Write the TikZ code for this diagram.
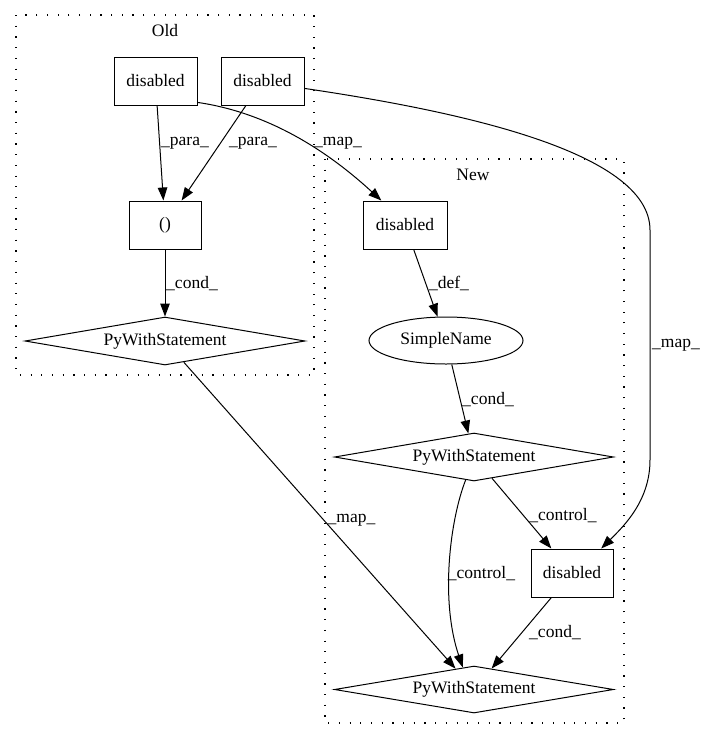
\documentclass[tikz,border=0pt]{standalone}
\usepackage{fontspec}
\setmainfont{Liberation Serif}
\usetikzlibrary{shapes.geometric,arrows.meta}
\begin{document}
\begin{tikzpicture}[x=1pt,y=-1pt,
  every node/.style={font=\fontsize{17.5}{21}\selectfont},
  box/.style={draw, line width=1pt, rectangle, inner sep=0pt, minimum height=48pt},
  dia/.style={draw, line width=1pt, diamond, aspect=5.8, inner sep=0pt, minimum width=279pt, minimum height=48pt},
  ell/.style={draw, line width=1pt, ellipse, inner sep=0pt, minimum width=154pt, minimum height=47pt},
  conn/.style={draw, line width=1pt, -{Triangle[length=13pt,width=9.5pt]}},
  lbl/.style={anchor=base, inner sep=0pt},
  clus/.style={draw, line width=1.1pt, dash pattern=on 1.2pt off 9.5pt}
]
\useasboundingbox (0,0) rectangle (707,740);

% clusters
\draw[clus] (16,15) rectangle (314,375);
\node[lbl] (oldlbl) at (165,36) {Old};
\draw[clus] (325,159) rectangle (624,723);
\node[lbl] (newlbl) at (473,180) {New};

% nodes
\node[box, minimum width=83pt] (o1) at (155.5,81) {disabled};
\node[box, minimum width=83pt] (o2) at (262.5,81) {disabled};
\node[box, minimum width=72pt] (o3) at (165,225) {()};
\node[dia, minimum width=280pt] (o4) at (165,341) {PyWithStatement};
\node[box, minimum width=84pt] (n1) at (405,225) {disabled};
\node[ell] (n2) at (446,340.5) {SimpleName};
\node[dia] (n3) at (474,457) {PyWithStatement};
\node[box, minimum width=82pt] (n4) at (572,573) {disabled};
\node[dia, minimum height=47pt] (n5) at (474,689.5) {PyWithStatement};

% connectors
\path[conn] (o1) -- (o3);
\path[conn] (o2) -- (o3);
\path[conn] (o1.-27) .. controls (250,110) and (310,135) .. (n1.134);
\path[conn] (o2.-10) .. controls (450,110) and (650,150) .. (650,230) -- (650,460) .. controls (650,500) and (625,525) .. (n4.40);
\path[conn] (o3) -- (o4);
\path[conn] (o4) -- (n5);
\path[conn] (n1) -- (n2);
\path[conn] (n2) -- (n3);
\path[conn] (n3) -- (n4);
\path[conn] (n3.250) .. controls (450,520) and (440,600) .. (n5.117);
\path[conn] (n4) -- (n5);

% labels
\node[lbl] (l1) at (185,145) {\_para\_};
\node[lbl] (l2) at (253,145) {\_para\_};
\node[lbl] (l3) at (338,145) {\_map\_};
\node[lbl] (l4) at (676,347) {\_map\_};
\node[lbl] (l5) at (192,288) {\_cond\_};
\node[lbl] (l6) at (351.5,522) {\_map\_};
\node[lbl] (l7) at (449,288) {\_def\_};
\node[lbl] (l8) at (488,404) {\_cond\_};
\node[lbl] (l9) at (563,520) {\_control\_};
\node[lbl] (l10) at (481.5,578) {\_control\_};
\node[lbl] (l11) at (555,637) {\_cond\_};
\end{tikzpicture}
\end{document}
